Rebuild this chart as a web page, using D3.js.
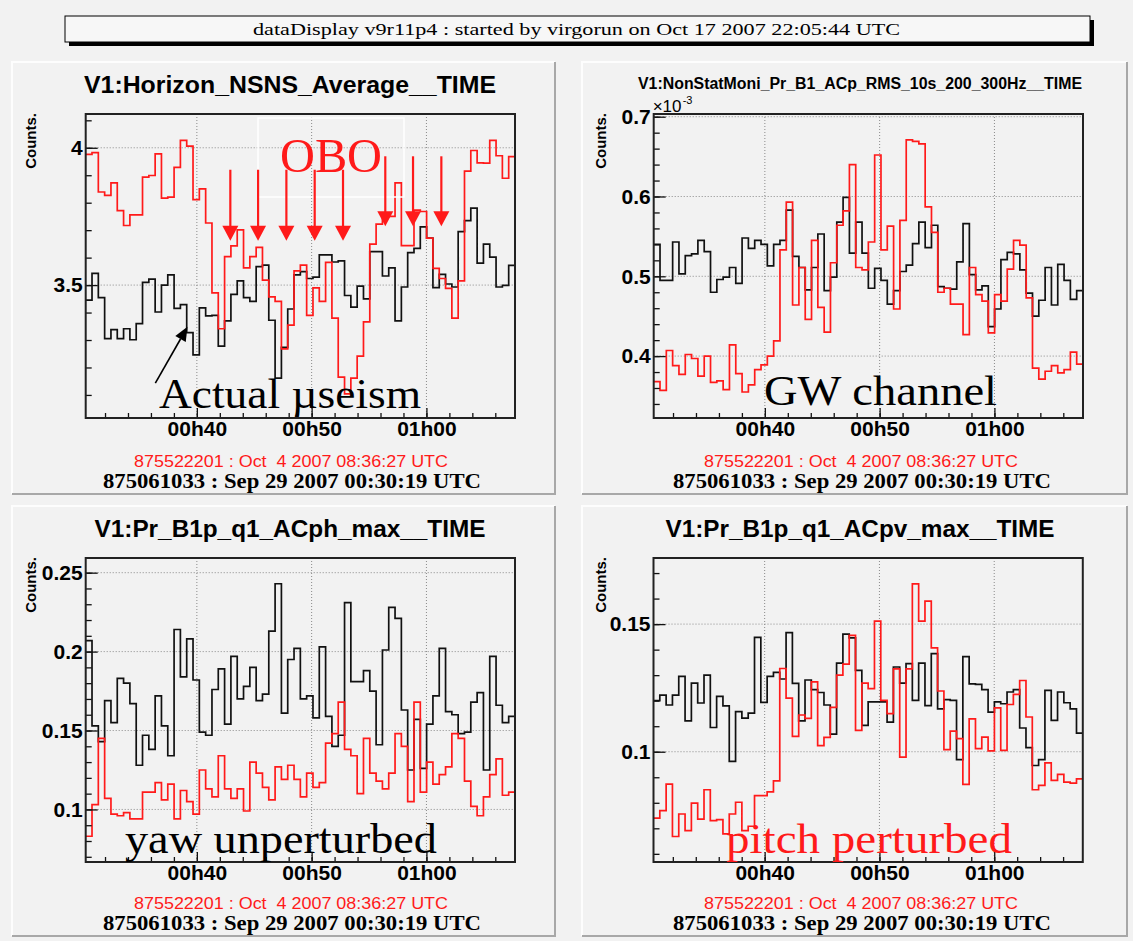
<!DOCTYPE html>
<html>
<head>
<meta charset="utf-8">
<script src="https://cdn.jsdelivr.net/npm/d3@7"></script>
<style>
  body { margin: 0; background: #f2f2f2; }
  svg { display: block; }
</style>
</head>
<body>
<svg id="chart" width="1133" height="941"></svg>
<script>
// histogram binning (all four pads share the same time axis)
const binStart = Date.UTC(2007, 8, 29, 0, 30, 19);
const binSeconds = 33;

// V1:Horizon_NSNS_Average__TIME
const horizonBlack = [3.445,3.543,3.454,3.305,3.338,3.305,3.341,3.301,3.360,3.510,
  3.522,3.402,3.500,3.537,3.415,3.429,3.327,3.246,3.417,3.388,
  3.390,3.278,3.370,3.466,3.515,3.454,3.441,3.567,3.573,3.372,
  3.161,3.273,3.413,3.537,3.549,3.524,3.529,3.610,3.610,3.584,
  3.588,3.462,3.420,3.496,3.450,3.622,3.622,3.533,3.563,3.370,
  3.493,3.618,3.634,3.712,3.671,3.491,3.539,3.504,3.493,3.695,
  3.735,3.780,3.580,3.649,3.602,3.493,3.499,3.572];
const horizonRed = [3.976,3.982,3.839,3.827,3.872,3.771,3.717,3.756,3.756,3.893,
  3.899,3.978,3.817,3.820,3.929,4.027,4.006,3.811,3.850,3.726,
  3.472,3.341,3.604,3.643,3.701,3.563,3.604,3.637,3.518,3.457,
  3.441,3.268,3.354,3.552,3.573,3.390,3.490,3.441,3.583,3.380,
  3.165,3.104,3.161,3.241,3.366,3.649,3.722,3.750,3.750,3.872,
  3.644,3.644,3.773,3.768,3.671,3.561,3.524,3.488,3.380,3.515,
  3.915,3.990,3.945,3.944,4.027,3.971,3.889,3.968];

// V1:NonStatMoni_Pr_B1_ACp_RMS_10s_200_300Hz__TIME  (x10^-3)
const gwBlack = [0.540,0.495,0.495,0.543,0.503,0.526,0.528,0.545,0.531,0.480,
  0.496,0.499,0.511,0.491,0.548,0.535,0.545,0.540,0.513,0.540,
  0.545,0.583,0.525,0.511,0.483,0.511,0.553,0.482,0.499,0.568,
  0.599,0.529,0.568,0.529,0.485,0.510,0.495,0.465,0.482,0.506,
  0.514,0.541,0.568,0.536,0.564,0.487,0.485,0.484,0.518,0.566,
  0.502,0.483,0.488,0.437,0.459,0.521,0.530,0.528,0.508,0.479,
  0.450,0.470,0.511,0.464,0.515,0.495,0.471,0.482];
const gwRed = [0.368,0.357,0.407,0.388,0.377,0.402,0.397,0.375,0.400,0.367,
  0.369,0.358,0.414,0.378,0.355,0.364,0.383,0.389,0.400,0.419,
  0.533,0.593,0.464,0.511,0.446,0.545,0.461,0.430,0.517,0.564,
  0.582,0.640,0.511,0.508,0.543,0.652,0.533,0.563,0.459,0.570,
  0.671,0.669,0.666,0.587,0.555,0.480,0.485,0.465,0.465,0.427,
  0.511,0.477,0.469,0.429,0.477,0.469,0.509,0.545,0.539,0.473,
  0.385,0.371,0.381,0.388,0.379,0.383,0.405,0.390];

// V1:Pr_B1p_q1_ACph_max__TIME
const yawBlack = [0.207,0.153,0.143,0.169,0.155,0.183,0.180,0.167,0.128,0.147,
  0.138,0.172,0.153,0.134,0.214,0.184,0.208,0.182,0.149,0.147,
  0.176,0.189,0.154,0.197,0.170,0.178,0.190,0.169,0.173,0.213,
  0.243,0.161,0.195,0.202,0.170,0.172,0.158,0.203,0.159,0.140,
  0.147,0.231,0.181,0.181,0.188,0.175,0.141,0.201,0.228,0.221,
  0.163,0.125,0.157,0.126,0.154,0.172,0.202,0.162,0.160,0.148,
  0.149,0.168,0.174,0.125,0.197,0.166,0.155,0.159];
const yawRed = [0.083,0.103,0.145,0.107,0.097,0.096,0.098,0.094,0.094,0.111,
  0.111,0.117,0.106,0.116,0.094,0.112,0.105,0.097,0.125,0.113,
  0.108,0.134,0.113,0.107,0.113,0.099,0.130,0.123,0.114,0.106,
  0.127,0.119,0.128,0.119,0.108,0.123,0.114,0.117,0.142,0.148,
  0.168,0.138,0.134,0.110,0.145,0.123,0.118,0.113,0.123,0.148,
  0.140,0.105,0.168,0.111,0.130,0.116,0.122,0.127,0.148,0.145,
  0.118,0.102,0.096,0.108,0.122,0.132,0.109,0.111];

// V1:Pr_B1p_q1_ACpv_max__TIME
const pitchBlack = [0.1200,0.1222,0.1183,0.1222,0.1295,0.1121,0.1269,0.1191,0.1300,0.1095,
  0.1217,0.1180,0.0962,0.1157,0.1132,0.1151,0.1448,0.1193,0.1295,0.1311,
  0.1285,0.1467,0.1268,0.1121,0.1281,0.1243,0.1232,0.1183,0.1069,0.1347,
  0.1461,0.1446,0.1319,0.1103,0.1195,0.1195,0.1195,0.1116,0.1332,0.1269,
  0.1345,0.1201,0.1347,0.1181,0.1384,0.1168,0.1204,0.1201,0.0969,0.1373,
  0.1266,0.1264,0.1243,0.1155,0.1195,0.1188,0.1234,0.1243,0.1093,0.1016,
  0.0946,0.0969,0.1240,0.1123,0.1234,0.1192,0.1168,0.1073];
const pitchRed = [0.0740,0.0769,0.0873,0.0668,0.0756,0.0691,0.0799,0.0736,0.0851,0.0730,
  0.0734,0.0678,0.0756,0.0802,0.0691,0.0708,0.0828,0.0828,0.0843,0.0886,
  0.1326,0.1210,0.1060,0.1144,0.1131,0.1274,0.1024,0.1056,0.1174,0.1300,
  0.1343,0.1456,0.1084,0.1269,0.1247,0.1512,0.1201,0.1149,0.1325,0.0979,
  0.1325,0.1658,0.1512,0.1590,0.1407,0.1238,0.1008,0.1081,0.1051,0.0872,
  0.1129,0.1012,0.1057,0.1003,0.1172,0.1005,0.1185,0.1225,0.1279,0.1136,
  0.0851,0.0868,0.0956,0.0888,0.0911,0.0881,0.0877,0.0894];

// tick labels
const xTickLabels = ["00h40", "00h50", "01h00"];
const horizonYTicks = [3.5, 4];
const gwYTicks = [0.4, 0.5, 0.6, 0.7];
const yawYTicks = [0.1, 0.15, 0.2, 0.25];
const pitchYTicks = [0.1, 0.15];

// OBO arrows: [time, stem top value, tip value]
const oboArrows = [["00:42:55", 3.92, 3.661], ["00:45:20", 3.92, 3.661], ["00:47:48", 3.92, 3.661],
  ["00:50:16", 3.92, 3.661], ["00:52:44", 3.92, 3.661],
  ["00:56:25", 3.969, 3.714], ["00:58:50", 3.969, 3.714], ["01:01:18", 3.969, 3.714]];

const SANS = "'Liberation Sans', Arial, Helvetica, sans-serif";
const SERIF = "'Liberation Serif', 'Times New Roman', serif";
const RED = "#ff1a1a";
const plotW = 429.3, plotH = 304;

const svg = d3.select("#chart");
svg.append("rect").attr("width", 1133).attr("height", 941).attr("fill", "#f2f2f2");

function label(g, txt, x, y, o) {
  const t = g.append("text").attr("x", x).attr("y", y).text(txt)
    .attr("font-family", o.family || SANS)
    .attr("font-size", o.size)
    .attr("font-weight", o.weight || "normal")
    .attr("fill", o.color || "#000")
    .attr("text-anchor", o.anchor || "start");
  if (o.width) t.attr("textLength", o.width).attr("lengthAdjust", "spacingAndGlyphs");
  return t;
}

// header box
svg.append("rect").attr("x", 69).attr("y", 20).attr("width", 1025).attr("height", 26).attr("fill", "#000");
svg.append("rect").attr("x", 65).attr("y", 16).attr("width", 1025).attr("height", 26)
  .attr("fill", "#f7f7f7").attr("stroke", "#000").attr("stroke-width", 1);
label(svg, "dataDisplay v9r11p4 : started by virgorun on Oct 17 2007 22:05:44 UTC", 576.5, 35,
  {family: SERIF, size: 16, anchor: "middle", width: 647});

const panels = [
  {pad: [12, 62, 543, 432], left: 85.7, top: 114, cx: 290,
   title: "V1:Horizon_NSNS_Average__TIME", titleSize: 24, titleW: 412, titleY: 93,
   black: horizonBlack, red: horizonRed, yDomain: [3.016, 4.123],
   yMajor: horizonYTicks, yMinor: d3.range(31, 42).map(k => k / 10),
   countsX: 36, stampY: 467,
   note: {text: "Actual \u00b5seism", x: 159, y: 408, w: 262, color: "#000"}},
  {pad: [582, 62, 545, 432], left: 653.7, top: 114, cx: 860,
   title: "V1:NonStatMoni_Pr_B1_ACp_RMS_10s_200_300Hz__TIME", titleSize: 16, titleW: 444, titleY: 89,
   black: gwBlack, red: gwRed, yDomain: [0.3224, 0.7034],
   yMajor: gwYTicks, yMinor: d3.range(17, 36).map(k => k * 0.02),
   countsX: 606, stampY: 467, exponent: true,
   note: {text: "GW channel", x: 764, y: 405, w: 233, color: "#000"}},
  {pad: [12, 506, 543, 430], left: 85.7, top: 558, cx: 290,
   title: "V1:Pr_B1p_q1_ACph_max__TIME", titleSize: 24, titleW: 391, titleY: 537,
   black: yawBlack, red: yawRed, yDomain: [0.0667, 0.2593],
   yMajor: yawYTicks, yMinor: d3.range(7, 26).map(k => k / 100),
   countsX: 36, stampY: 909,
   note: {text: "yaw unperturbed", x: 125, y: 853, w: 312, color: "#000"}},
  {pad: [582, 506, 545, 430], left: 653.5, top: 558, cx: 860,
   title: "V1:Pr_B1p_q1_ACpv_max__TIME", titleSize: 24, titleW: 389, titleY: 537,
   black: pitchBlack, red: pitchRed, yDomain: [0.0568, 0.1759],
   yMajor: pitchYTicks, yMinor: d3.range(6, 18).map(k => k / 100),
   countsX: 606, stampY: 909,
   note: {text: "pitch perturbed", x: 726, y: 853, w: 286, color: RED}}
];

const t0 = new Date(binStart);
const t1 = new Date(binStart + horizonBlack.length * binSeconds * 1000);
const majorTimes = xTickLabels.map(s => new Date(Date.UTC(2007, 8, 29, +s.slice(0, 2), +s.slice(3, 5))));
const minorTimes = d3.utcMinute.every(2).range(t0, t1);

function steps(arr) {
  const pts = arr.map((v, i) => ({t: new Date(binStart + i * binSeconds * 1000), v: v}));
  pts.push({t: new Date(binStart + arr.length * binSeconds * 1000), v: arr[arr.length - 1]});
  return pts;
}

panels.forEach((p, idx) => {
  const g = svg.append("g");
  const [px, py, pw, ph] = p.pad;

  // pad bevel
  g.append("rect").attr("x", px).attr("y", py).attr("width", pw).attr("height", ph).attr("fill", "#f2f2f2");
  g.append("path").attr("d", `M${px},${py + ph} V${py} H${px + pw}`).attr("fill", "none")
    .attr("stroke", "#fdfdfd").attr("stroke-width", 2);
  g.append("path").attr("d", `M${px + pw},${py} V${py + ph} H${px}`).attr("fill", "none")
    .attr("stroke", "#a8a8a8").attr("stroke-width", 2);

  const x = d3.scaleUtc().domain([t0, t1]).range([p.left, p.left + plotW]);
  const y = d3.scaleLinear().domain(p.yDomain).range([p.top + plotH, p.top]);

  // dotted grid
  g.append("g").selectAll("line").data(p.yMajor).join("line")
    .attr("x1", p.left).attr("x2", p.left + plotW)
    .attr("y1", d => y(d)).attr("y2", d => y(d))
    .attr("stroke", "#8a8a8a").attr("stroke-dasharray", "1,2");
  g.append("g").selectAll("line").data(majorTimes).join("line")
    .attr("x1", d => x(d)).attr("x2", d => x(d))
    .attr("y1", p.top).attr("y2", p.top + plotH)
    .attr("stroke", "#8a8a8a").attr("stroke-dasharray", "1,2");

  // histograms
  const clipId = "clip" + idx;
  g.append("clipPath").attr("id", clipId).append("rect")
    .attr("x", p.left).attr("y", p.top).attr("width", plotW).attr("height", plotH);
  const line = d3.line().x(d => x(d.t)).y(d => y(d.v)).curve(d3.curveStepAfter);
  g.append("path").datum(steps(p.black)).attr("clip-path", `url(#${clipId})`)
    .attr("d", line).attr("fill", "none").attr("stroke", "#111").attr("stroke-width", 1.7);
  g.append("path").datum(steps(p.red)).attr("clip-path", `url(#${clipId})`)
    .attr("d", line).attr("fill", "none").attr("stroke", RED).attr("stroke-width", 1.7);

  // axes
  const yMinorAxis = d3.axisLeft(y).tickValues(p.yMinor).tickSize(-6).tickFormat("");
  const yMajorAxis = d3.axisLeft(y).tickValues(p.yMajor).tickSize(-12).tickPadding(3).tickFormat(d => String(d));
  const xMinorAxis = d3.axisBottom(x).tickValues(minorTimes).tickSize(-5).tickFormat("");
  const xMajorAxis = d3.axisBottom(x).tickValues(majorTimes).tickSize(-10).tickPadding(3)
    .tickFormat((d, i) => xTickLabels[i]);

  [yMinorAxis, yMajorAxis].forEach(ax => {
    g.append("g").attr("transform", `translate(${p.left},0)`).call(ax)
      .call(s => s.select(".domain").remove());
  });
  [xMinorAxis, xMajorAxis].forEach(ax => {
    g.append("g").attr("transform", `translate(0,${p.top + plotH})`).call(ax)
      .call(s => s.select(".domain").remove());
  });
  g.selectAll(".tick line").attr("stroke", "#111").attr("stroke-width", 1.3);
  g.selectAll(".tick text").attr("font-family", SANS).attr("font-size", 21)
    .attr("font-weight", "bold").attr("fill", "#000");

  // frame
  g.append("rect").attr("x", p.left).attr("y", p.top).attr("width", plotW).attr("height", plotH)
    .attr("fill", "none").attr("stroke", "#222").attr("stroke-width", 2);

  // titles and labels
  label(g, p.title, p.cx, p.titleY, {size: p.titleSize, weight: "bold", anchor: "middle", width: p.titleW});
  label(g, "Counts.", 0, 0, {size: 15, weight: "bold", anchor: "end"})
    .attr("transform", `translate(${p.countsX},${p.top - 1}) rotate(-90)`);
  label(g, "875522201 : Oct  4 2007 08:36:27 UTC", p.cx + 1, p.stampY,
    {size: 16, color: RED, anchor: "middle", width: 314}).attr("xml:space", "preserve");
  label(g, "875061033 : Sep 29 2007 00:30:19 UTC", p.cx + 2, p.stampY + 21,
    {family: SERIF, size: 22, weight: "bold", anchor: "middle", width: 378});

  if (p.exponent) {
    // axis multiplier, tucked under the title
    label(g, "\u00d710", p.left - 1, p.top - 2, {size: 17});
    label(g, "-3", p.left + 29, p.top - 10, {size: 11});
  }

  if (idx === 0) {
    // OBO annotation
    g.append("rect").attr("x", 258).attr("y", 118).attr("width", 146).attr("height", 79)
      .attr("fill", "none").attr("stroke", "#fff").attr("stroke-width", 1.5);
    label(g, "OBO", 280, 172, {family: SERIF, size: 48, color: RED, width: 102});
    const parseT = d3.utcParse("%Y-%m-%d %H:%M:%S");
    oboArrows.forEach(([ts, v0, v1]) => {
      const ax = x(parseT("2007-09-29 " + ts));
      const yTop = y(v0), yTip = y(v1);
      g.append("line").attr("x1", ax).attr("x2", ax).attr("y1", yTop).attr("y2", yTip - 14)
        .attr("stroke", RED).attr("stroke-width", 2.2);
      g.append("path").attr("d", `M${ax - 8},${yTip - 15} L${ax + 8},${yTip - 15} L${ax},${yTip} Z`)
        .attr("fill", RED);
    });
    // black arrow to the microseism trace
    const tail = [x(parseT("2007-09-29 00:36:23")), y(3.143)];
    const tip = [x(parseT("2007-09-29 00:39:11")), y(3.348)];
    const ang = Math.atan2(tip[1] - tail[1], tip[0] - tail[0]);
    const hl = 14, hw = 6;
    const bx = tip[0] - hl * Math.cos(ang), by = tip[1] - hl * Math.sin(ang);
    g.append("line").attr("x1", tail[0]).attr("y1", tail[1]).attr("x2", bx).attr("y2", by)
      .attr("stroke", "#000").attr("stroke-width", 1.6);
    g.append("path").attr("d",
      `M${tip[0]},${tip[1]} L${bx + hw * Math.sin(ang)},${by - hw * Math.cos(ang)} L${bx - hw * Math.sin(ang)},${by + hw * Math.cos(ang)} Z`)
      .attr("fill", "#000");
  }

  label(g, p.note.text, p.note.x, p.note.y, {family: SERIF, size: 42, color: p.note.color, width: p.note.w});
});
</script>
</body>
</html>
